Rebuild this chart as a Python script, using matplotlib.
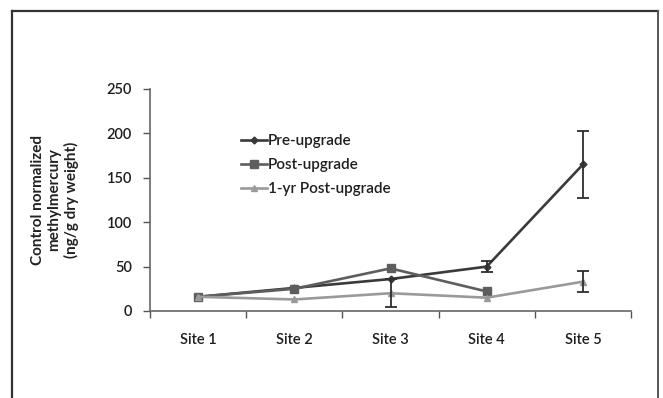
import matplotlib
matplotlib.use("Agg")
import matplotlib.pyplot as plt
import numpy as np

sites = ["Site 1", "Site 2", "Site 3", "Site 4", "Site 5"]
pre_upgrade = [16, 26, 36, 50, 165]
pre_err = [0, 0, 0, 6, 37.5]
post_upgrade = [16, 25, 48, 22, np.nan]
post_err = [0, 0, 0, 0, 0]
yr1_post = [16, 13, 20, 15, 33]
yr1_err = [0, 0, 15.5, 0, 12]

series_labels = ["Pre-upgrade", "Post-upgrade", "1-yr Post-upgrade"]
y_ticks = [0, 50, 100, 150, 200, 250]

plt.rcParams["font.family"] = ["Lato", "DejaVu Sans"]
plt.rcParams["font.weight"] = "semibold"
plt.rcParams["text.color"] = "#1e1e1e"
plt.rcParams["xtick.color"] = "#1e1e1e"
plt.rcParams["ytick.color"] = "#1e1e1e"

fig = plt.figure(figsize=(6.63, 3.98), dpi=100)
ax = fig.add_axes([150 / 663, 1 - 311 / 398, 481 / 663, 222 / 398])

x = np.arange(len(sites))
styles = [
    (pre_upgrade, pre_err, "#3a3a3a", "D", 3.5),
    (post_upgrade, post_err, "#5e5e5e", "s", 5.5),
    (yr1_post, yr1_err, "#9a9a9a", "^", 5),
]
for (vals, err, col, mk, ms), lab in zip(styles, series_labels):
    vals = np.array(vals, dtype=float)
    err = np.array(err, dtype=float)
    ax.plot(x, vals, color=col, lw=1.9, marker=mk, ms=ms, label=lab,
            markeredgecolor=col, markerfacecolor=col)
    show = err > 0
    ax.errorbar(x[show], vals[show], yerr=err[show], fmt="none",
                ecolor="#2e2e2e", elinewidth=1.3, capsize=4, capthick=1.3)

ax.set_xlim(-0.5, 4.5)
ax.set_ylim(0, 250)
ax.set_yticks(y_ticks)
ax.set_xticks(x)
ax.set_xticklabels(sites)
ax.set_xticks(np.arange(-0.5, 4.6, 1.0), minor=True)
ax.tick_params(axis="x", which="major", length=0, pad=16, labelsize=10.5)
ax.tick_params(axis="x", which="minor", length=5, width=1, color="#555555", direction="out")
ax.tick_params(axis="y", length=5, width=1, color="#555555", direction="out",
               labelsize=10.5, pad=8)
for s in ["top", "right"]:
    ax.spines[s].set_visible(False)
for s in ["left", "bottom"]:
    ax.spines[s].set_color("#666666")
    ax.spines[s].set_linewidth(1.2)

ax.set_ylabel("Control normalized\nmethylmercury\n(ng/g dry weight)", fontsize=11,
              fontweight="bold", linespacing=1.2, labelpad=20, color="#222222")

leg = ax.legend(loc="upper left", bbox_to_anchor=(85 / 481, (311 - 128) / 222),
                frameon=False, fontsize=11, handlelength=1.7, handletextpad=0.05,
                labelspacing=0.65, borderaxespad=0)

# outer chart border (left, top, right)
fig.add_artist(plt.Line2D([12 / 663, 12 / 663], [0, 1 - 11 / 398], color="#333333", lw=1.6,
                          transform=fig.transFigure))
fig.add_artist(plt.Line2D([12 / 663, 658 / 663], [1 - 11 / 398, 1 - 11 / 398], color="#333333",
                          lw=1.6, transform=fig.transFigure))
fig.add_artist(plt.Line2D([658 / 663, 658 / 663], [0, 1 - 11 / 398], color="#555555", lw=1.4,
                          transform=fig.transFigure))

fig.savefig("out.png", dpi=100)
